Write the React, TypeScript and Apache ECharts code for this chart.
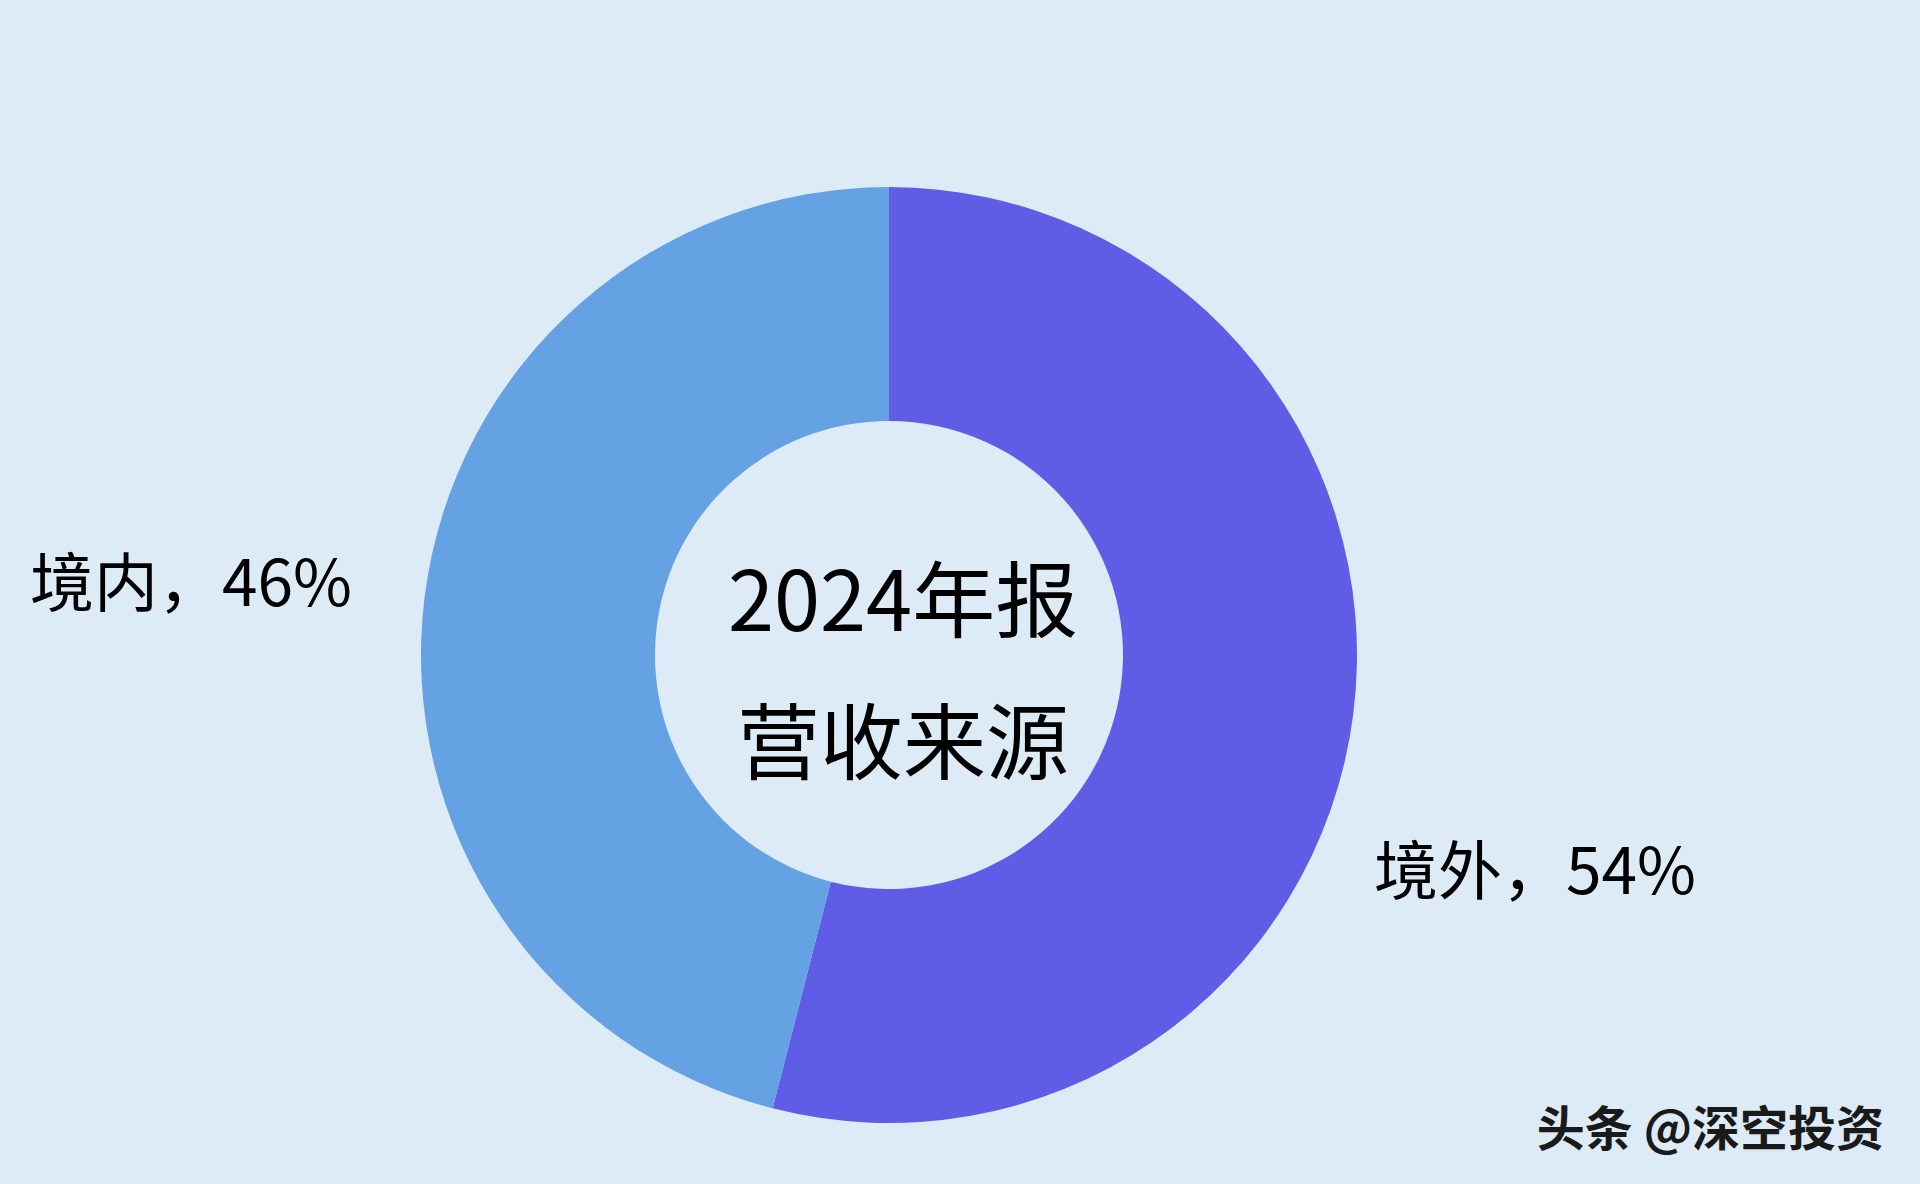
import { useEffect, useRef } from 'react';
import * as echarts from 'echarts';

// 营收来源（2024 年报）
const regions = ['境外', '境内'];
const shares = [54, 46];
const colors = ['#5f5ce6', '#64a2e3'];

// 标签位置（按数据顺序）
const labelPos = [
  { x: 1374, y: 866 },
  { x: 30, y: 578 },
];

const FONT = '"Noto Sans CJK SC", "Noto Sans", sans-serif';

export default function App() {
  const ref = useRef<HTMLDivElement>(null);

  useEffect(() => {
    document.body.style.margin = '0';
    if (!ref.current) return;
    const chart = echarts.init(ref.current, null, { renderer: 'svg' });
    chart.setOption({
      animation: false,
      backgroundColor: '#ddebf7',
      graphic: [
        {
          type: 'text',
          x: 903,
          y: 666,
          silent: true,
          style: {
            text: '2024年报\n营收来源',
            font: `83px ${FONT}`,
            lineHeight: 142,
            fill: '#000',
            align: 'center',
            verticalAlign: 'middle',
          },
        },
        {
          type: 'text',
          x: 1884,
          y: 1125,
          silent: true,
          style: {
            text: '头条 @深空投资',
            font: `bold 48px ${FONT}`,
            fill: '#1a1a1a',
            align: 'right',
            verticalAlign: 'middle',
            textShadowColor: '#ffffff',
            textShadowOffsetX: -2,
            textShadowOffsetY: -2,
            textShadowBlur: 0,
          },
        },
      ],
      series: [
        {
          type: 'pie',
          center: [889, 655],
          radius: [234, 468],
          startAngle: 90,
          clockwise: true,
          silent: true,
          data: regions.map((name, i) => ({
            name,
            value: shares[i],
            itemStyle: { color: colors[i] },
          })),
          label: {
            show: true,
            formatter: '{b}，{c}%',
            fontFamily: FONT,
            fontSize: 64,
            color: '#000',
          },
          labelLine: { show: false },
          labelLayout: (p: any) => ({
            x: labelPos[p.dataIndex].x,
            y: labelPos[p.dataIndex].y,
            align: 'left',
            verticalAlign: 'middle',
          }),
        },
      ],
    });
    return () => chart.dispose();
  }, []);

  return <div ref={ref} style={{ width: 1920, height: 1184 }} />;
}
